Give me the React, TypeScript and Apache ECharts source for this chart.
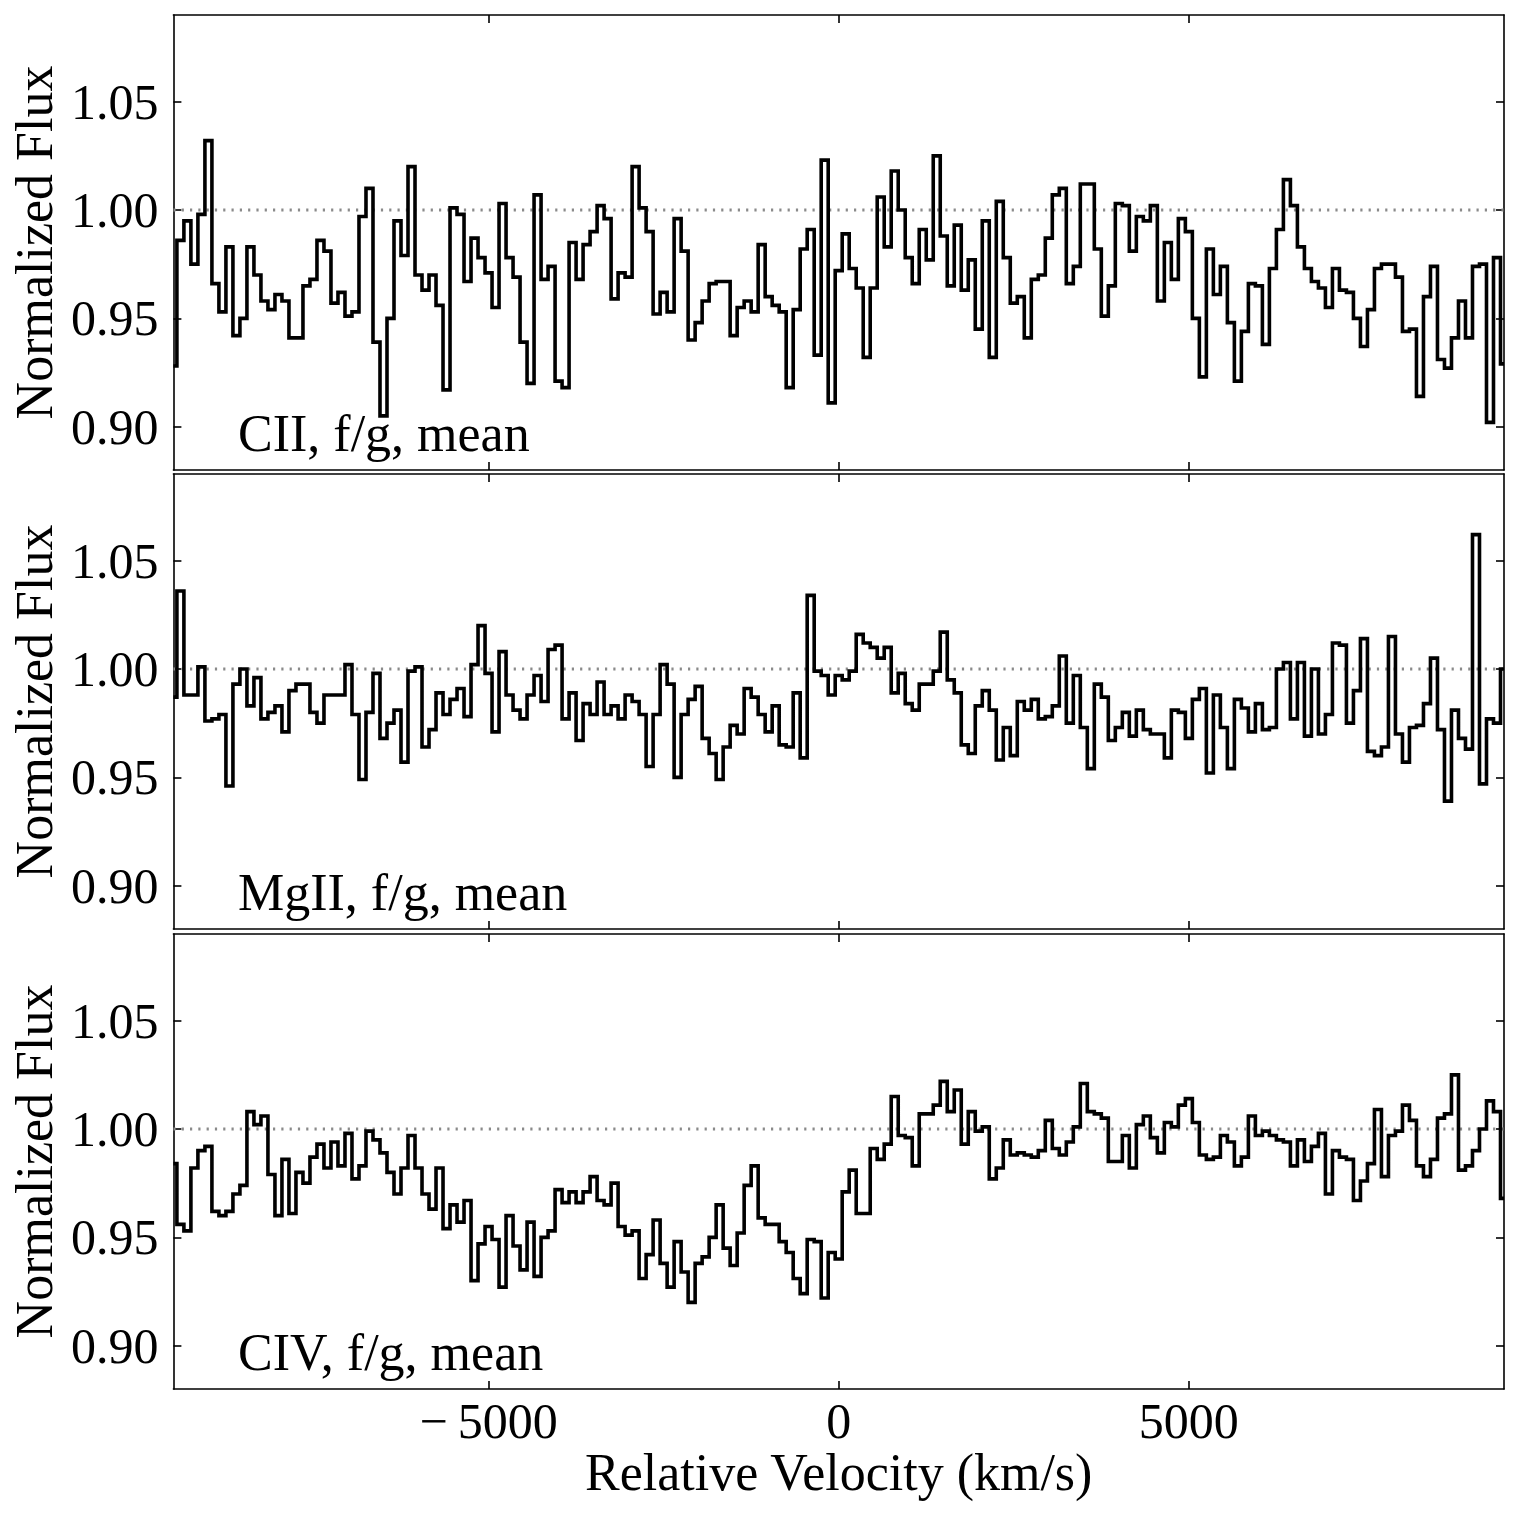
import React, { useEffect, useRef } from "react";
import * as echarts from "echarts";

// Velocity grid of the binned spectra (bin centres, km/s)
const VEL_START = -9500;
const VEL_END = 9500;
const VEL_STEP = 100;

// Axis ranges and ticks
const FLUX_MIN = 0.88;
const FLUX_MAX = 1.09;
const X_TICKS = [-5000, 0, 5000];
const Y_TICKS = [0.9, 0.95, 1.0, 1.05];
const CONTINUUM = 1.0;

const PANEL_LABELS = ["CII, f/g, mean", "MgII, f/g, mean", "CIV, f/g, mean"];

// Normalized flux per velocity bin
const CII_FLUX = [
  0.928, 0.986, 0.995, 0.975, 0.998, 1.032, 0.966, 0.953, 0.983, 0.942,
  0.950, 0.983, 0.970, 0.958, 0.954, 0.961, 0.958, 0.941, 0.941, 0.965,
  0.968, 0.986, 0.981, 0.957, 0.962, 0.951, 0.953, 0.997, 1.010, 0.939,
  0.905, 0.950, 0.995, 0.979, 1.020, 0.970, 0.963, 0.970, 0.956, 0.917,
  1.001, 0.998, 0.967, 0.987, 0.978, 0.971, 0.955, 1.003, 0.978, 0.969,
  0.939, 0.920, 1.007, 0.968, 0.974, 0.921, 0.918, 0.985, 0.968, 0.984,
  0.990, 1.002, 0.996, 0.959, 0.971, 0.969, 1.020, 1.001, 0.990, 0.952,
  0.962, 0.953, 0.996, 0.981, 0.940, 0.948, 0.958, 0.966, 0.967, 0.967,
  0.942, 0.955, 0.958, 0.953, 0.984, 0.960, 0.956, 0.953, 0.918, 0.954,
  0.982, 0.991, 0.933, 1.023, 0.911, 0.972, 0.989, 0.973, 0.964, 0.932,
  0.964, 1.006, 0.983, 1.018, 1.000, 0.978, 0.966, 0.991, 0.977, 1.025,
  0.988, 0.965, 0.993, 0.963, 0.977, 0.945, 0.995, 0.932, 1.004, 0.978,
  0.957, 0.960, 0.941, 0.968, 0.970, 0.987, 1.007, 1.010, 0.966, 0.974,
  1.012, 1.012, 0.982, 0.951, 0.965, 1.003, 1.002, 0.981, 0.997, 0.995,
  1.002, 0.958, 0.985, 0.968, 0.996, 0.990, 0.950, 0.923, 0.982, 0.961,
  0.974, 0.948, 0.921, 0.944, 0.966, 0.965, 0.938, 0.973, 0.991, 1.014,
  1.002, 0.983, 0.973, 0.967, 0.964, 0.955, 0.973, 0.963, 0.962, 0.950,
  0.937, 0.954, 0.973, 0.975, 0.975, 0.969, 0.944, 0.945, 0.914, 0.960,
  0.974, 0.931, 0.927, 0.941, 0.958, 0.941, 0.974, 0.975, 0.902, 0.978,
  0.929,
];

const MGII_FLUX = [
  0.987, 1.036, 0.988, 0.988, 1.001, 0.976, 0.977, 0.979, 0.946, 0.993,
  1.000, 0.983, 0.996, 0.977, 0.980, 0.983, 0.971, 0.990, 0.993, 0.993,
  0.980, 0.975, 0.988, 0.988, 0.988, 1.002, 0.979, 0.949, 0.980, 0.998,
  0.968, 0.975, 0.981, 0.957, 0.999, 1.001, 0.964, 0.972, 0.989, 0.979,
  0.986, 0.991, 0.978, 1.002, 1.020, 0.998, 0.971, 1.008, 0.988, 0.981,
  0.977, 0.988, 0.997, 0.985, 1.009, 1.011, 0.977, 0.989, 0.967, 0.984,
  0.979, 0.994, 0.979, 0.983, 0.977, 0.988, 0.985, 0.979, 0.955, 0.979,
  1.002, 0.993, 0.950, 0.979, 0.986, 0.992, 0.968, 0.961, 0.949, 0.964,
  0.974, 0.970, 0.991, 0.987, 0.979, 0.971, 0.983, 0.965, 0.964, 0.989,
  0.959, 1.034, 0.999, 0.997, 0.988, 0.997, 0.995, 0.999, 1.016, 1.012,
  1.010, 1.005, 1.010, 0.989, 0.998, 0.984, 0.981, 0.993, 0.993, 0.999,
  1.017, 0.995, 0.989, 0.965, 0.961, 0.983, 0.990, 0.981, 0.958, 0.973,
  0.960, 0.985, 0.981, 0.986, 0.977, 0.978, 0.983, 1.006, 0.975, 0.997,
  0.973, 0.954, 0.993, 0.987, 0.967, 0.973, 0.980, 0.969, 0.981, 0.972,
  0.970, 0.970, 0.959, 0.981, 0.980, 0.968, 0.986, 0.991, 0.952, 0.988,
  0.973, 0.954, 0.986, 0.982, 0.971, 0.984, 0.972, 0.973, 1.000, 1.003,
  0.977, 1.003, 0.969, 1.000, 0.970, 0.979, 1.012, 1.011, 0.975, 0.990,
  1.014, 0.962, 0.960, 0.964, 1.015, 0.970, 0.957, 0.973, 0.974, 0.984,
  1.005, 0.972, 0.939, 0.981, 0.968, 0.963, 1.062, 0.947, 0.977, 0.975,
  1.000,
];

const CIV_FLUX = [
  0.984, 0.956, 0.953, 0.982, 0.990, 0.992, 0.962, 0.960, 0.962, 0.970,
  0.974, 1.008, 1.002, 1.006, 0.979, 0.960, 0.986, 0.961, 0.980, 0.975,
  0.987, 0.993, 0.982, 0.994, 0.983, 0.998, 0.977, 0.983, 0.999, 0.995,
  0.989, 0.980, 0.970, 0.982, 0.997, 0.982, 0.970, 0.963, 0.982, 0.954,
  0.965, 0.957, 0.967, 0.930, 0.947, 0.955, 0.949, 0.927, 0.960, 0.946,
  0.935, 0.957, 0.932, 0.950, 0.953, 0.972, 0.966, 0.971, 0.966, 0.971,
  0.978, 0.967, 0.965, 0.975, 0.955, 0.951, 0.953, 0.931, 0.942, 0.958,
  0.938, 0.927, 0.948, 0.934, 0.920, 0.938, 0.941, 0.950, 0.965, 0.945,
  0.937, 0.952, 0.974, 0.983, 0.959, 0.956, 0.956, 0.948, 0.943, 0.931,
  0.924, 0.949, 0.948, 0.922, 0.943, 0.940, 0.971, 0.981, 0.961, 0.961,
  0.991, 0.986, 0.993, 1.015, 0.997, 0.996, 0.983, 1.007, 1.007, 1.011,
  1.022, 1.008, 1.018, 0.993, 1.008, 0.999, 1.001, 0.977, 0.982, 0.995,
  0.988, 0.989, 0.988, 0.987, 0.990, 1.004, 0.991, 0.988, 0.994, 1.001,
  1.021, 1.008, 1.007, 1.005, 0.985, 0.985, 0.997, 0.982, 1.002, 1.006,
  0.996, 0.989, 1.003, 1.001, 1.011, 1.014, 1.003, 0.988, 0.986, 0.987,
  0.997, 0.994, 0.983, 0.987, 1.006, 0.997, 0.999, 0.997, 0.995, 0.994,
  0.983, 0.995, 0.985, 0.992, 0.998, 0.970, 0.990, 0.987, 0.986, 0.967,
  0.976, 0.984, 1.009, 0.978, 0.997, 0.999, 1.011, 1.004, 0.983, 0.978,
  0.986, 1.005, 1.007, 1.025, 0.981, 0.983, 0.990, 1.000, 1.013, 1.008,
  0.968,
];

const PANEL_FLUX = [CII_FLUX, MGII_FLUX, CIV_FLUX];

// Layout (pixels)
const WIDTH = 1520;
const HEIGHT = 1519;
const GRID_LEFT = 172;
const GRID_WIDTH = 1332;
const PANEL_TOPS = [15, 474, 934];
const PANEL_HEIGHT = 455;
const FONT = '"Liberation Serif", "Times New Roman", Times, serif';
const TICK_FONT_SIZE = 50;
const LABEL_FONT_SIZE = 52;

// Matplotlib-style wide minus sign for negative velocities
const formatVelocity = (v: number) =>
  v < 0 ? "\u2212\u2009" + Math.abs(v) : String(v);

function buildOption() {
  const grids: any[] = [];
  const xAxes: any[] = [];
  const yAxes: any[] = [];
  const series: any[] = [];
  const graphics: any[] = [];

  const frameLine = { color: "#000", width: 1.6 };
  const tickStyle = { color: "#000", width: 1.6 };

  PANEL_FLUX.forEach((flux, i) => {
    const isLast = i === PANEL_FLUX.length - 1;
    grids.push({
      left: GRID_LEFT,
      top: PANEL_TOPS[i],
      width: GRID_WIDTH,
      height: PANEL_HEIGHT,
    });

    const xBase = {
      type: "value",
      gridIndex: i,
      min: VEL_START,
      max: VEL_END,
      splitLine: { show: false },
      axisLine: { show: true, onZero: false, lineStyle: frameLine },
      axisTick: {
        show: true,
        inside: true,
        length: 8,
        lineStyle: tickStyle,
        customValues: X_TICKS,
      },
    };
    xAxes.push({
      ...xBase,
      position: "bottom",
      axisLabel: {
        show: isLast,
        customValues: X_TICKS,
        formatter: formatVelocity,
        fontFamily: FONT,
        fontSize: TICK_FONT_SIZE,
        color: "#000",
        margin: 7,
      },
      name: isLast ? "Relative Velocity (km/s)" : "",
      nameLocation: "middle",
      nameGap: 50,
      nameTextStyle: {
        fontFamily: FONT,
        fontSize: LABEL_FONT_SIZE,
        color: "#000",
      },
    });
    xAxes.push({
      ...xBase,
      position: "top",
      axisLabel: { show: false },
    });

    const yBase = {
      type: "value",
      gridIndex: i,
      min: FLUX_MIN,
      max: FLUX_MAX,
      splitLine: { show: false },
      axisLine: { show: true, onZero: false, lineStyle: frameLine },
      axisTick: {
        show: true,
        inside: true,
        length: 8,
        lineStyle: tickStyle,
        customValues: Y_TICKS,
      },
    };
    yAxes.push({
      ...yBase,
      position: "left",
      axisLabel: {
        show: true,
        customValues: Y_TICKS,
        formatter: (v: number) => v.toFixed(2),
        fontFamily: FONT,
        fontSize: TICK_FONT_SIZE,
        color: "#000",
        margin: 15,
      },
      name: "Normalized Flux",
      nameLocation: "middle",
      nameRotate: 90,
      nameGap: 111,
      nameTextStyle: {
        fontFamily: FONT,
        fontSize: LABEL_FONT_SIZE,
        color: "#000",
      },
    });
    yAxes.push({
      ...yBase,
      position: "right",
      axisLabel: { show: false },
    });

    const data = flux.map((f, k) => [VEL_START + k * VEL_STEP, f]);

    // dotted continuum level
    series.push({
      type: "line",
      xAxisIndex: 2 * i,
      yAxisIndex: 2 * i,
      data: [
        [VEL_START, CONTINUUM],
        [VEL_END, CONTINUUM],
      ],
      symbol: "none",
      silent: true,
      lineStyle: { color: "#8a8a8a", width: 3, type: [2.2, 6.1] },
      z: 2,
    });
    // binned spectrum
    series.push({
      type: "line",
      xAxisIndex: 2 * i,
      yAxisIndex: 2 * i,
      data,
      step: "middle",
      symbol: "none",
      showSymbol: false,
      clip: true,
      lineStyle: { color: "#000", width: 3.6, join: "miter" },
      z: 3,
    });

    graphics.push({
      type: "text",
      x: 238,
      y: PANEL_TOPS[i] + PANEL_HEIGHT - 37,
      style: {
        text: PANEL_LABELS[i],
        fontFamily: FONT,
        fontSize: LABEL_FONT_SIZE,
        fill: "#000",
        verticalAlign: "middle",
      },
      z: 10,
    });
  });

  return {
    animation: false,
    backgroundColor: "#fff",
    grid: grids,
    xAxis: xAxes,
    yAxis: yAxes,
    series,
    graphic: graphics,
  };
}

export default function App() {
  const ref = useRef<HTMLDivElement>(null);

  useEffect(() => {
    if (!ref.current) return;
    const chart = echarts.init(ref.current, undefined, { renderer: "svg" });
    chart.setOption(buildOption() as any);
    return () => chart.dispose();
  }, []);

  return (
    <div
      ref={ref}
      style={{
        position: "absolute",
        left: 0,
        top: 0,
        width: WIDTH,
        height: HEIGHT,
        background: "#fff",
      }}
    />
  );
}
